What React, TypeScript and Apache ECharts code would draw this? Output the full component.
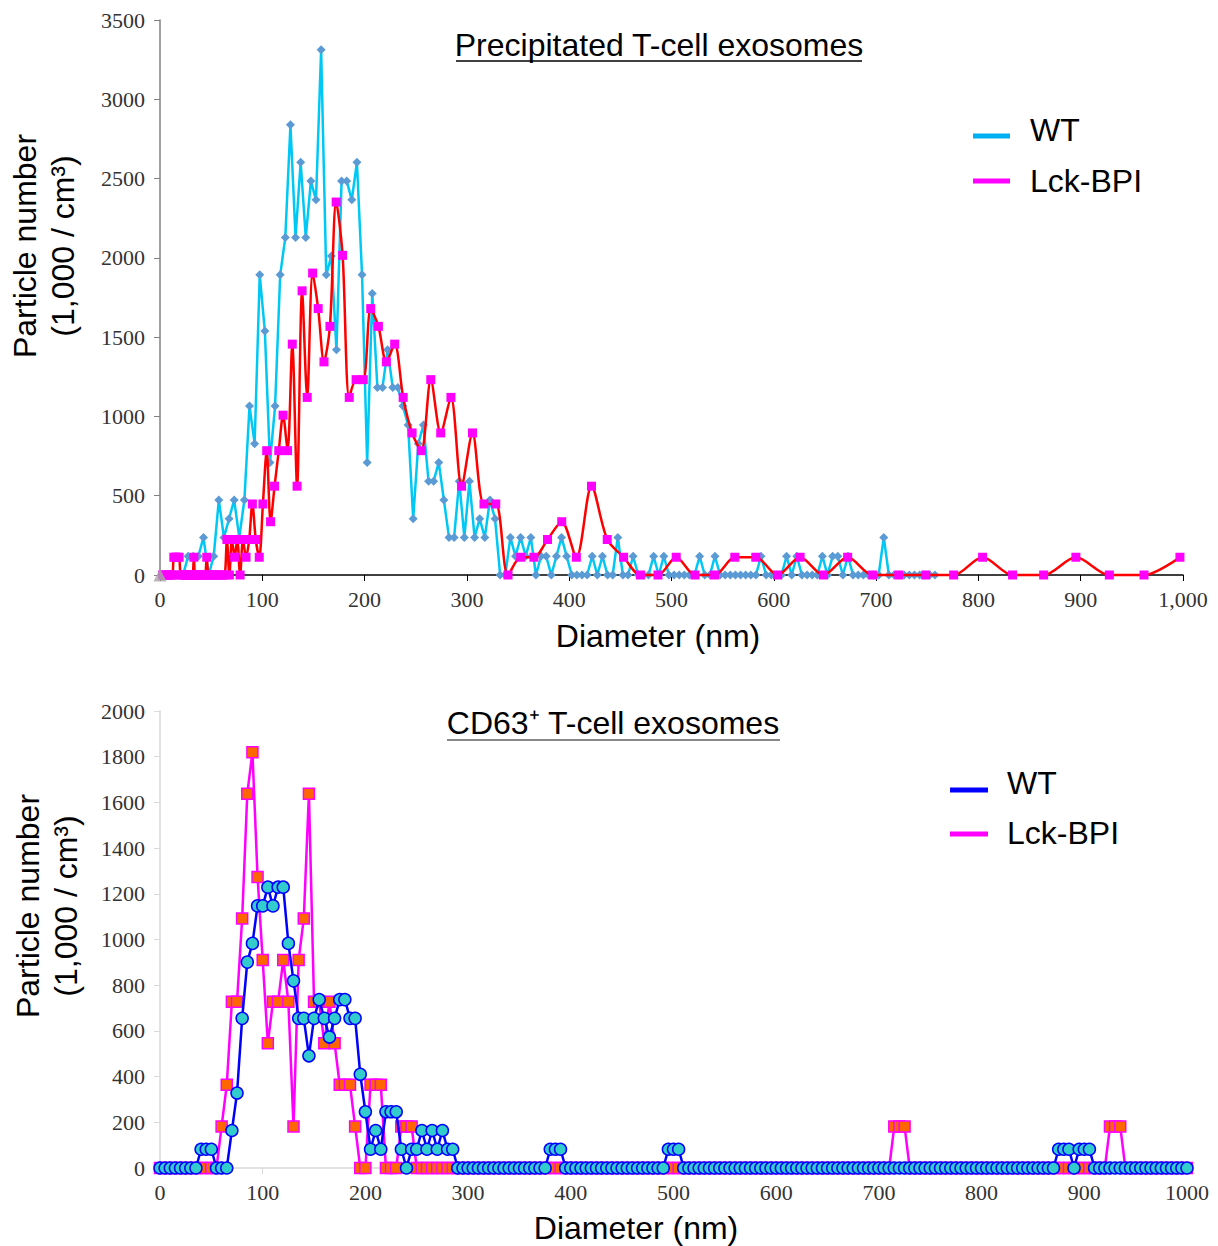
import React, { useEffect, useRef } from "react";
import * as echarts from "echarts";

const SANS = "'Liberation Sans', Arial, sans-serif";
const SERIF = "'Liberation Serif', 'Times New Roman', serif";

// ---------- Top chart: Precipitated T-cell exosomes ----------
// WT bins every 5 nm starting at 2.5 nm
const TOP_WT_START = 2.5;
const TOP_WT_STEP = 5;
const TOP_WT_Y = [
  0, 0, 0, 0, 0, 118, 118, 118, 237, 0,
  118, 473, 237, 355, 473, 237, 473, 1065, 828, 1893,
  1538, 710, 1065, 1893, 2129, 2839, 2129, 2603, 2129, 2484,
  2366, 3312, 1893, 2011, 1420, 2484, 2484, 2366, 2603, 1893,
  710, 1775, 1183, 1183, 1420, 1183, 1183, 1065, 946, 355,
  828, 946, 592, 592, 710, 473, 237, 237, 592, 237,
  592, 237, 355, 237, 473, 355, 0, 0, 237, 118,
  237, 118, 237, 0, 118, 118, 0, 118, 237, 118,
  0, 0, 0, 0, 118, 0, 118, 0, 0, 237,
  0, 0, 118, 0, 0, 0, 118, 0, 118, 0,
  0, 0, 0, 0, 0, 118, 0, 0, 118, 0,
  0, 0, 0, 0, 0, 0, 0, 118, 0, 0,
  0, 0, 118, 0, 118, 0, 0, 0, 0, 118,
  0, 118, 118, 0, 118, 0, 0, 0, 0, 0,
  0, 237, 0, 0, 0, 0, 0, 0, 0, 0,
  0, 0,
];

// Lck-BPI bins (log spaced diameters)
const TOP_LCK_X = [
  2.5, 4, 5.5, 7, 8.5, 10, 11.3, 12.2, 13.5, 15.1,
  16.8, 18.7, 20.1, 21.6, 23.2, 24.9, 26.7, 27.7, 28.7, 29.7,
  30.8, 31.9, 33.1, 34.3, 35.6, 36.9, 38.2, 39.6, 41.1, 42.6,
  44.1, 45.7, 47.4, 49.1, 50.9, 52.8, 54.7, 56.7, 58.8, 60.9,
  63.1, 65.4, 67.8, 70.3, 72.9, 75.5, 78.3, 81.1, 84.1, 87.2,
  90.3, 93.6, 97.0, 100.6, 104.3, 108.1, 112.0, 116.1, 120.3, 124.7,
  129.3, 134.0, 138.9, 143.9, 149.2, 154.6, 160.3, 166.1, 172.2, 178.5,
  185.0, 191.7, 198.7, 206.0, 213.5, 221.3, 229.4, 237.7, 246.4, 255.4,
  264.7, 274.4, 284.4, 294.8, 305.5, 316.7, 328.2, 340.2, 352.6, 365.5,
  378.8, 392.7, 407.0, 421.8, 437.2, 453.2, 469.7, 486.8, 504.6, 523.0,
  542.1, 561.9, 582.4, 603.7, 625.7, 648.5, 672.2, 696.7, 722.1, 748.5,
  775.8, 804.1, 833.4, 863.8, 895.3, 928.0, 961.9, 997.0,
];
const TOP_LCK_Y = [
  0, 0, 0, 0, 0, 0, 0, 0, 112, 112,
  112, 112, 0, 0, 0, 0, 0, 0, 0, 0,
  0, 0, 112, 0, 0, 0, 0, 0, 0, 0,
  0, 112, 0, 0, 0, 0, 0, 0, 0, 0,
  0, 224, 0, 224, 112, 224, 0, 224, 112, 224,
  448, 224, 112, 448, 784, 336, 560, 784, 1008, 784,
  1456, 560, 1792, 1120, 1904, 1680, 1344, 1568, 2352, 2016,
  1120, 1232, 1232, 1680, 1568, 1344, 1456, 1120, 896, 784,
  1232, 896, 1120, 560, 896, 448, 448, 0, 112, 112,
  224, 336, 112, 560, 224, 112, 0, 0, 112, 0,
  0, 112, 112, 0, 112, 0, 112, 0, 0, 0,
  0, 112, 0, 0, 112, 0, 0, 112,
];

// ---------- Bottom chart: CD63+ T-cell exosomes ----------
const BOT_START = 0;
const BOT_STEP = 5;
const BOT_WT_Y = [
  0, 0, 0, 0, 0, 0, 0, 0, 82, 82,
  82, 0, 0, 0, 164, 328, 655, 901, 983, 1147,
  1147, 1229, 1147, 1229, 1229, 983, 819, 655, 655, 491,
  655, 737, 655, 573, 655, 737, 737, 655, 655, 410,
  246, 82, 164, 82, 246, 246, 246, 82, 0, 82,
  82, 164, 82, 164, 82, 164, 82, 82, 0, 0,
  0, 0, 0, 0, 0, 0, 0, 0, 0, 0,
  0, 0, 0, 0, 0, 0, 82, 82, 82, 0,
  0, 0, 0, 0, 0, 0, 0, 0, 0, 0,
  0, 0, 0, 0, 0, 0, 0, 0, 0, 82,
  82, 82, 0, 0, 0, 0, 0, 0, 0, 0,
  0, 0, 0, 0, 0, 0, 0, 0, 0, 0,
  0, 0, 0, 0, 0, 0, 0, 0, 0, 0,
  0, 0, 0, 0, 0, 0, 0, 0, 0, 0,
  0, 0, 0, 0, 0, 0, 0, 0, 0, 0,
  0, 0, 0, 0, 0, 0, 0, 0, 0, 0,
  0, 0, 0, 0, 0, 0, 0, 0, 0, 0,
  0, 0, 0, 0, 0, 82, 82, 82, 0, 82,
  82, 82, 0, 0, 0, 0, 0, 0, 0, 0,
  0, 0, 0, 0, 0, 0, 0, 0, 0, 0,
  0,
];
const BOT_LCK_Y = [
  0, 0, 0, 0, 0, 0, 0, 0, 0, 0,
  0, 0, 182, 364, 728, 728, 1092, 1638, 1820, 1274,
  910, 546, 728, 728, 910, 728, 182, 910, 1092, 1638,
  728, 728, 546, 728, 546, 364, 364, 364, 182, 0,
  0, 364, 364, 364, 0, 0, 0, 182, 182, 182,
  0, 0, 0, 0, 0, 0, 0, 0, 0, 0,
  0, 0, 0, 0, 0, 0, 0, 0, 0, 0,
  0, 0, 0, 0, 0, 0, 0, 0, 0, 0,
  0, 0, 0, 0, 0, 0, 0, 0, 0, 0,
  0, 0, 0, 0, 0, 0, 0, 0, 0, 0,
  0, 0, 0, 0, 0, 0, 0, 0, 0, 0,
  0, 0, 0, 0, 0, 0, 0, 0, 0, 0,
  0, 0, 0, 0, 0, 0, 0, 0, 0, 0,
  0, 0, 0, 0, 0, 0, 0, 0, 0, 0,
  0, 0, 0, 182, 182, 182, 0, 0, 0, 0,
  0, 0, 0, 0, 0, 0, 0, 0, 0, 0,
  0, 0, 0, 0, 0, 0, 0, 0, 0, 0,
  0, 0, 0, 0, 0, 0, 0, 0, 0, 0,
  0, 0, 0, 0, 0, 182, 182, 182, 0, 0,
  0, 0, 0, 0, 0, 0, 0, 0, 0, 0,
  0,
];

const TOP_Y_TICKS = { min: 0, max: 3500, interval: 500 };
const BOT_Y_TICKS = { min: 0, max: 2000, interval: 200 };
const X_TICKS = { min: 0, max: 1000, interval: 100 };

const binned = (start: number, step: number, ys: number[]) =>
  ys.map((y, i) => [start + step * i, y]);
const paired = (xs: number[], ys: number[]) => xs.map((x, i) => [x, ys[i]]);

const AXIS_TITLE = { fontFamily: SANS, fontSize: 32, fill: "#000" };

function buildOption(): any {
  const tickLabel = { fontFamily: SERIF, fontSize: 22, color: "#333" };
  const plain = (v: number) => String(v);
  return {
    animation: false,
    backgroundColor: "#ffffff",
    grid: [
      { left: 160, width: 1023, top: 20, height: 555 },
      { left: 160, width: 1027, top: 711, height: 457 },
    ],
    xAxis: [
      {
        gridIndex: 0,
        type: "value",
        ...X_TICKS,
        axisLine: { lineStyle: { color: "#000", width: 1.5 } },
        axisTick: { show: true, length: 6, lineStyle: { color: "#000" } },
        axisLabel: {
          ...tickLabel,
          margin: 13,
          formatter: (v: number) => (v >= 1000 ? "1,000" : String(v)),
        },
        splitLine: { show: false },
      },
      {
        gridIndex: 1,
        type: "value",
        ...X_TICKS,
        axisLine: { lineStyle: { color: "#d9d9d9", width: 1.5 } },
        axisTick: { show: true, length: 6, lineStyle: { color: "#d9d9d9" } },
        axisLabel: { ...tickLabel, margin: 13, formatter: plain },
        splitLine: { show: false },
      },
    ],
    yAxis: [
      {
        gridIndex: 0,
        type: "value",
        ...TOP_Y_TICKS,
        axisLine: { show: true, lineStyle: { color: "#808080", width: 1.5 } },
        axisTick: { show: true, length: 6, lineStyle: { color: "#808080" } },
        axisLabel: { ...tickLabel, margin: 15, formatter: plain },
        splitLine: { show: false },
      },
      {
        gridIndex: 1,
        type: "value",
        ...BOT_Y_TICKS,
        axisLine: { show: true, lineStyle: { color: "#d9d9d9", width: 1.5 } },
        axisTick: { show: true, length: 6, lineStyle: { color: "#d9d9d9" } },
        axisLabel: { ...tickLabel, margin: 15, formatter: plain },
        splitLine: { show: false },
      },
    ],
    series: [
      {
        name: "WT",
        type: "line",
        xAxisIndex: 0,
        yAxisIndex: 0,
        data: binned(TOP_WT_START, TOP_WT_STEP, TOP_WT_Y),
        showSymbol: true,
        showAllSymbol: true,
        symbol: "diamond",
        symbolSize: 9,
        clip: false,
        lineStyle: { color: "#00c8f5", width: 2.5 },
        itemStyle: { color: "#5b9bd5" },
        z: 2,
      },
      {
        name: "Lck-BPI",
        type: "line",
        xAxisIndex: 0,
        yAxisIndex: 0,
        data: paired(TOP_LCK_X, TOP_LCK_Y),
        smooth: 0.3,
        showSymbol: true,
        showAllSymbol: true,
        symbol: "rect",
        symbolSize: 9,
        clip: false,
        lineStyle: { color: "#ff0000", width: 2.5 },
        itemStyle: { color: "#ff00ff" },
        z: 3,
      },
      {
        name: "origin",
        type: "scatter",
        xAxisIndex: 0,
        yAxisIndex: 0,
        data: [[0, 0]],
        symbol: "triangle",
        symbolSize: 13,
        clip: false,
        itemStyle: { color: "#a6a6a6" },
        z: 4,
      },
      {
        name: "Lck-BPI CD63",
        type: "line",
        xAxisIndex: 1,
        yAxisIndex: 1,
        data: binned(BOT_START, BOT_STEP, BOT_LCK_Y),
        showSymbol: true,
        showAllSymbol: true,
        symbol: "rect",
        symbolSize: 11,
        clip: false,
        lineStyle: { color: "#ff00ff", width: 2.5 },
        itemStyle: { color: "#ff6600", borderColor: "#ff00ff", borderWidth: 1.5 },
        z: 2,
      },
      {
        name: "WT CD63",
        type: "line",
        xAxisIndex: 1,
        yAxisIndex: 1,
        data: binned(BOT_START, BOT_STEP, BOT_WT_Y),
        showSymbol: true,
        showAllSymbol: true,
        symbol: "circle",
        symbolSize: 12,
        clip: false,
        lineStyle: { color: "#0000ff", width: 2.5 },
        itemStyle: { color: "#33cccc", borderColor: "#0000ff", borderWidth: 1.5 },
        z: 3,
      },
    ],
    graphic: [
      // Titles
      {
        type: "text",
        x: 659,
        y: 45,
        style: {
          ...AXIS_TITLE,
          text: "Precipitated T-cell exosomes",
          align: "center",
          verticalAlign: "middle",
        },
      },
      {
        type: "line",
        shape: { x1: 456, y1: 61, x2: 862, y2: 61 },
        style: { stroke: "#000", lineWidth: 1.5 },
      },
      {
        type: "text",
        x: 613,
        y: 723,
        style: {
          ...AXIS_TITLE,
          text: "CD63\u207A T-cell exosomes",
          align: "center",
          verticalAlign: "middle",
        },
      },
      {
        type: "line",
        shape: { x1: 447, y1: 740, x2: 780, y2: 740 },
        style: { stroke: "#606060", lineWidth: 1.5 },
      },
      // Axis names
      {
        type: "text",
        x: 658,
        y: 636,
        style: { ...AXIS_TITLE, text: "Diameter (nm)", align: "center", verticalAlign: "middle" },
      },
      {
        type: "text",
        x: 636,
        y: 1228,
        style: { ...AXIS_TITLE, text: "Diameter (nm)", align: "center", verticalAlign: "middle" },
      },
      {
        type: "text",
        x: 44,
        y: 246,
        rotation: Math.PI / 2,
        style: {
          ...AXIS_TITLE,
          text: "Particle number\n(1,000 / cm\u00B3)",
          lineHeight: 38,
          align: "center",
          verticalAlign: "middle",
        },
      },
      {
        type: "text",
        x: 47,
        y: 906,
        rotation: Math.PI / 2,
        style: {
          ...AXIS_TITLE,
          text: "Particle number\n(1,000 / cm\u00B3)",
          lineHeight: 38,
          align: "center",
          verticalAlign: "middle",
        },
      },
      // Legends (top)
      {
        type: "line",
        shape: { x1: 973, y1: 136, x2: 1010, y2: 136 },
        style: { stroke: "#00b0f0", lineWidth: 5 },
      },
      {
        type: "text",
        x: 1030,
        y: 130,
        style: { ...AXIS_TITLE, text: "WT", align: "left", verticalAlign: "middle" },
      },
      {
        type: "line",
        shape: { x1: 973, y1: 181, x2: 1010, y2: 181 },
        style: { stroke: "#ff00ff", lineWidth: 5 },
      },
      {
        type: "text",
        x: 1030,
        y: 181,
        style: { ...AXIS_TITLE, text: "Lck-BPI", align: "left", verticalAlign: "middle" },
      },
      // Legends (bottom)
      {
        type: "line",
        shape: { x1: 950, y1: 790, x2: 988, y2: 790 },
        style: { stroke: "#0000ff", lineWidth: 5 },
      },
      {
        type: "text",
        x: 1007,
        y: 783,
        style: { ...AXIS_TITLE, text: "WT", align: "left", verticalAlign: "middle" },
      },
      {
        type: "line",
        shape: { x1: 950, y1: 834, x2: 988, y2: 834 },
        style: { stroke: "#ff00ff", lineWidth: 5 },
      },
      {
        type: "text",
        x: 1007,
        y: 833,
        style: { ...AXIS_TITLE, text: "Lck-BPI", align: "left", verticalAlign: "middle" },
      },
    ],
  };
}

export default function App() {
  const ref = useRef<HTMLDivElement>(null);
  useEffect(() => {
    if (!ref.current) return;
    const chart = echarts.init(ref.current, null, { renderer: "svg" });
    chart.setOption(buildOption());
    return () => chart.dispose();
  }, []);
  return (
    <div
      ref={ref}
      style={{ position: "absolute", left: 0, top: 0, width: 1218, height: 1246, background: "#fff" }}
    />
  );
}
